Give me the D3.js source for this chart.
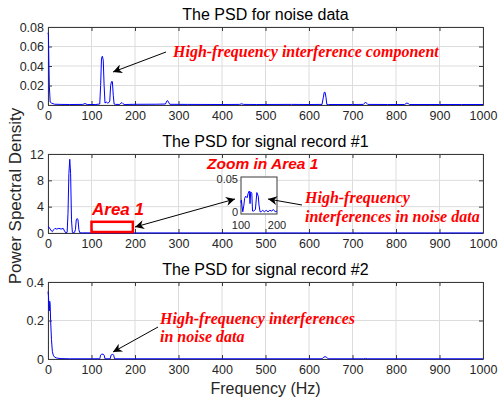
<!DOCTYPE html>
<html>
<head>
<meta charset="utf-8">
<script src="https://cdn.jsdelivr.net/npm/d3@7"></script>
<style>
  body { margin: 0; background: #fff; }
  svg { display: block; }
</style>
</head>
<body>
<script>
// ---- data ----
const xTicks = [0, 100, 200, 300, 400, 500, 600, 700, 800, 900, 1000];

const noiseFreq = [0, 1, 3, 5, 8, 15, 30, 50, 80, 85, 90, 110, 119, 121, 123, 125, 127, 129, 131, 134, 137, 140, 142, 144, 146, 148, 150, 152, 155, 165, 168, 170, 172, 175, 200, 250, 270, 273, 275, 277, 280, 320, 400, 440, 445, 450, 480, 560, 600, 630, 633, 635, 637, 639, 641, 645, 700, 725, 728, 730, 732, 735, 780, 820, 823, 825, 828, 831, 900, 950, 1000];
const noisePsd = [0.074, 0.072, 0.02, 0.003, 0.002, 0.0008, 0.0006, 0.0005, 0.0006, 0.0015, 0.0005, 0.0005, 0.001, 0.02, 0.048, 0.05, 0.046, 0.02, 0.002, 0.003, 0.002, 0.0025, 0.004, 0.02, 0.024, 0.024, 0.01, 0.001, 0.0006, 0.0006, 0.002, 0.0025, 0.0015, 0.0005, 0.0007, 0.0008, 0.001, 0.004, 0.0045, 0.003, 0.0007, 0.0006, 0.0005, 0.0006, 0.0012, 0.0006, 0.0005, 0.0006, 0.0005, 0.0006, 0.008, 0.013, 0.013, 0.008, 0.0006, 0.0005, 0.0005, 0.0006, 0.002, 0.003, 0.002, 0.0006, 0.0005, 0.0005, 0.0015, 0.002, 0.0015, 0.0005, 0.0005, 0.0005, 0.0005];
const noiseTicks = [0, 0.02, 0.04, 0.06, 0.08];

const sig1Freq = [0, 2, 5, 8, 10, 13, 16, 20, 25, 30, 35, 38, 41, 44, 46, 48, 50, 52, 54, 56, 58, 61, 63, 65, 67, 69, 71, 73, 76, 80, 100, 150, 200, 1000];
const sig1Psd = [1.0, 0.9, 0.6, 0.3, 0.2, 0.5, 0.7, 0.6, 0.7, 0.6, 0.7, 0.3, 0.02, 0.1, 3, 9, 11.2, 9, 2, 0.1, 0.05, 0.1, 0.5, 2, 2.2, 2, 0.5, 0.05, 0.02, 0.02, 0.02, 0.02, 0.01, 0.01];
const sig1Ticks = [0, 4, 8, 12];

const zoomFreq = [100, 101, 103, 105, 108, 110, 113, 117, 120, 123, 125, 127, 130, 132, 135, 140, 144, 148, 150, 153, 156, 160, 165, 170, 175, 180, 185, 190, 195, 200];
const zoomPsd = [0.015, 0.019, 0.01, 0.003, 0.012, 0.021, 0.024, 0.022, 0.028, 0.031, 0.014, 0.03, 0.028, 0.004, 0.004, 0.006, 0.029, 0.024, 0.012, 0.003, 0.003, 0.005, 0.003, 0.005, 0.003, 0.005, 0.004, 0.006, 0.003, 0.004];
const zoomXTicks = [100, 200];
const zoomYTicks = [0, 0.05];

const sig2Freq = [0, 1, 2, 3, 4, 5, 6, 8, 10, 12, 15, 20, 30, 50, 100, 119, 121, 123, 127, 129, 131, 143, 145, 149, 151, 153, 300, 630, 634, 637, 640, 644, 726, 730, 734, 1000];
const sig2Psd = [0.35, 0.33, 0.28, 0.25, 0.3, 0.28, 0.2, 0.1, 0.04, 0.02, 0.01, 0.005, 0.002, 0.001, 0.001, 0.001, 0.02, 0.025, 0.025, 0.02, 0.001, 0.001, 0.02, 0.025, 0.02, 0.001, 0.001, 0.001, 0.01, 0.012, 0.01, 0.001, 0.001, 0.003, 0.001, 0.001];
const sig2Ticks = [0, 0.2, 0.4];

const titles = ["The PSD for noise data", "The PSD for signal record #1", "The PSD for signal record #2"];

// ---- layout ----
const width = 501, height = 399;
const left = 48, right = 483;
const sans = "'Liberation Sans', Arial, sans-serif";
const serif = "'Liberation Serif', 'Times New Roman', serif";

const svg = d3.select("body").append("svg")
  .attr("width", width).attr("height", height)
  .style("font-family", sans);

const defs = svg.append("defs");
defs.append("marker")
  .attr("id", "head")
  .attr("viewBox", "0 0 10 10")
  .attr("refX", 10).attr("refY", 5)
  .attr("markerWidth", 12).attr("markerHeight", 9)
  .attr("markerUnits", "userSpaceOnUse")
  .attr("orient", "auto-start-reverse")
  .append("path").attr("d", "M0,0 L10,5 L0,10 L3,5 Z").attr("fill", "#000");

const xScale = d3.scaleLinear().domain([0, 1000]).range([left, right]);

function panel(i, top, bottom, freq, psd, yMax, yTicks, fmt) {
  const y = d3.scaleLinear().domain([0, yMax]).range([bottom, top]);
  const g = svg.append("g");

  // grid
  g.append("g").selectAll("line").data(xTicks).join("line")
    .attr("x1", d => xScale(d)).attr("x2", d => xScale(d))
    .attr("y1", top).attr("y2", bottom)
    .attr("stroke", "#dcdcdc").attr("stroke-width", 1);
  g.append("g").selectAll("line").data(yTicks).join("line")
    .attr("x1", left).attr("x2", right)
    .attr("y1", d => y(d)).attr("y2", d => y(d))
    .attr("stroke", "#dcdcdc").attr("stroke-width", 1);

  // axes (inward ticks, MATLAB style)
  g.append("g").attr("transform", `translate(0,${bottom})`)
    .call(d3.axisBottom(xScale).tickValues(xTicks).tickFormat(d3.format("d"))
      .tickSizeInner(-4).tickSizeOuter(0).tickPadding(6));
  g.append("g").attr("transform", `translate(${left},0)`)
    .call(d3.axisLeft(y).tickValues(yTicks).tickFormat(fmt).tickSizeInner(-4).tickSizeOuter(0).tickPadding(4));
  g.append("g").attr("transform", `translate(0,${top})`)
    .call(d3.axisTop(xScale).tickValues(xTicks).tickSizeInner(-4).tickSizeOuter(0).tickFormat(""));
  g.append("g").attr("transform", `translate(${right},0)`)
    .call(d3.axisRight(y).tickValues(yTicks).tickSizeInner(-4).tickSizeOuter(0).tickFormat(""));
  g.selectAll(".domain").attr("stroke", "#3a3a3a");
  g.selectAll(".tick line").attr("stroke", "#3a3a3a");
  g.selectAll(".tick text").attr("font-size", 12.5).attr("fill", "#262626").attr("font-family", sans);

  // series
  g.append("path")
    .datum(d3.zip(freq, psd))
    .attr("fill", "none").attr("stroke", "#0000ff").attr("stroke-width", 1)
    .attr("d", d3.line().x(d => xScale(d[0])).y(d => y(Math.min(d[1], yMax))));

  svg.append("text")
    .attr("x", (left + right) / 2).attr("y", top - 7)
    .attr("text-anchor", "middle").attr("font-size", 16).attr("fill", "#000")
    .text(titles[i]);
  return y;
}

const y1 = panel(0, 27, 105, noiseFreq, noisePsd, 0.08, noiseTicks, d => d === 0 ? "0" : d3.format(".2f")(d));
const y2 = panel(1, 154, 233, sig1Freq, sig1Psd, 12, sig1Ticks, d3.format("d"));
const y3 = panel(2, 282, 359, sig2Freq, sig2Psd, 0.4, sig2Ticks, d => d === 0 ? "0" : d3.format(".1f")(d));

// axis labels
svg.append("text")
  .attr("transform", "translate(21,196) rotate(-90)")
  .attr("text-anchor", "middle").attr("font-size", 17).attr("fill", "#262626")
  .text("Power Spectral Density");
svg.append("text")
  .attr("x", (left + right) / 2).attr("y", 394)
  .attr("text-anchor", "middle").attr("font-size", 16).attr("fill", "#262626")
  .text("Frequency (Hz)");

function arrow(x1, y1_, x2, y2_, both) {
  const l = svg.append("line")
    .attr("x1", x1).attr("y1", y1_).attr("x2", x2).attr("y2", y2_)
    .attr("stroke", "#000").attr("stroke-width", 1)
    .attr("marker-end", "url(#head)");
  if (both) l.attr("marker-start", "url(#head)");
}

function redText(x, yy, lines, font, size, lh) {
  const t = svg.append("text")
    .attr("font-family", font).attr("font-size", size)
    .attr("font-weight", "bold").attr("font-style", "italic")
    .attr("fill", "#ff0000");
  lines.forEach((s, k) => t.append("tspan").attr("x", x).attr("y", yy + k * lh).text(s));
}

// panel 1 annotation
redText(173, 57, ["High-frequency interference component"], serif, 16, 0);
arrow(166, 52, 113, 72);

// panel 2: Area 1 rectangle and zoom inset
svg.append("rect")
  .attr("x", xScale(100)).attr("y", y2(1.7))
  .attr("width", xScale(195) - xScale(100)).attr("height", y2(0.15) - y2(1.7))
  .attr("fill", "none").attr("stroke", "#ff0000").attr("stroke-width", 2.5);
redText(92, 215, ["Area 1"], sans, 17, 0);
redText(207, 169, ["Zoom in Area 1"], sans, 15.5, 0);

const ix = d3.scaleLinear().domain([100, 200]).range([241, 277]);
const iy = d3.scaleLinear().domain([0, 0.05]).range([214, 177]);
const inset = svg.append("g");
inset.append("rect").attr("x", 241).attr("y", 177).attr("width", 36).attr("height", 37)
  .attr("fill", "#fff").attr("stroke", "#3a3a3a").attr("stroke-width", 1);
inset.append("path")
  .datum(d3.zip(zoomFreq, zoomPsd))
  .attr("fill", "none").attr("stroke", "#0000ff").attr("stroke-width", 1)
  .attr("d", d3.line().x(d => ix(d[0])).y(d => iy(d[1])));
inset.selectAll("text.yl").data(zoomYTicks).join("text")
  .attr("x", 238).attr("y", d => d === 0 ? iy(d) + 2 : iy(d) + 5.5)
  .attr("text-anchor", "end").attr("font-size", 11).attr("fill", "#262626")
  .text(d => d === 0 ? "0" : "0.05");
inset.selectAll("text.xl").data(zoomXTicks).join("text")
  .attr("x", d => ix(d)).attr("y", 228.5)
  .attr("text-anchor", "middle").attr("font-size", 11).attr("fill", "#262626")
  .text(d => d);

arrow(135, 227, 235, 199, true);
redText(305, 203, ["High-frequency", "interferences in noise data"], serif, 16, 19);
arrow(302, 205, 268, 199);

// panel 3 annotation
redText(160, 324, ["High-frequency interferences", "in noise data"], serif, 16, 18);
arrow(158, 327, 113, 352);
</script>
</body>
</html>
